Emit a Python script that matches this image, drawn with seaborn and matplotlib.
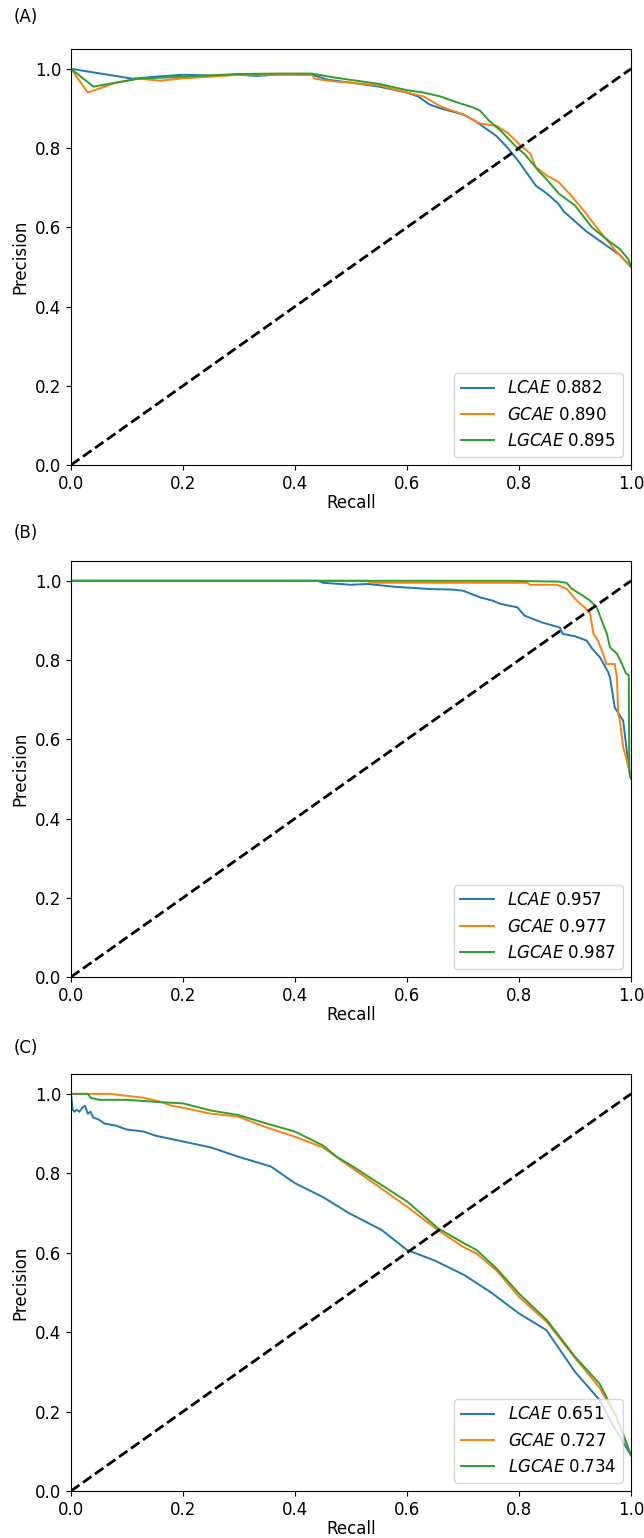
import matplotlib
matplotlib.use("Agg")
import matplotlib.pyplot as plt
import seaborn as sns
import pandas as pd

# ---------------- data ----------------
models = ["LCAE", "GCAE", "LGCAE"]
panel_tags = ["(A)", "(B)", "(C)"]
scores_A = [0.882, 0.890, 0.895]
scores_B = [0.957, 0.977, 0.987]
scores_C = [0.651, 0.727, 0.734]

# Panel A
A_LCAE_r = [0, 0.11, 0.15, 0.2, 0.25, 0.3, 0.33, 0.38, 0.43, 0.46, 0.5, 0.55, 0.6, 0.62, 0.64, 0.66,
            0.7, 0.72, 0.74, 0.76, 0.78, 0.80, 0.81, 0.82, 0.83, 0.85, 0.87, 0.88, 0.9, 0.92, 0.94,
            0.96, 0.98, 1.0]
A_LCAE_p = [1.0, 0.975, 0.98, 0.985, 0.983, 0.985, 0.982, 0.986, 0.985, 0.972, 0.965, 0.955, 0.94,
            0.93, 0.91, 0.9, 0.885, 0.87, 0.85, 0.83, 0.80, 0.765, 0.745, 0.725, 0.705, 0.685, 0.66,
            0.64, 0.615, 0.59, 0.57, 0.55, 0.53, 0.5]
A_GCAE_r = [0, 0.03, 0.08, 0.12, 0.16, 0.2, 0.25, 0.3, 0.35, 0.43, 0.435, 0.47, 0.5, 0.55, 0.6, 0.63,
            0.66, 0.7, 0.73, 0.76, 0.78, 0.80, 0.82, 0.83, 0.85, 0.87, 0.89, 0.915, 0.944, 0.973, 1.0]
A_GCAE_p = [1.0, 0.94, 0.965, 0.975, 0.97, 0.976, 0.98, 0.985, 0.985, 0.985, 0.975, 0.968, 0.965,
            0.958, 0.94, 0.93, 0.905, 0.885, 0.862, 0.856, 0.838, 0.81, 0.786, 0.752, 0.73, 0.715,
            0.685, 0.643, 0.59, 0.54, 0.5]
A_LGCAE_r = [0, 0.04, 0.08, 0.12, 0.2, 0.3, 0.37, 0.43, 0.47, 0.5, 0.55, 0.6, 0.63, 0.66, 0.69,
             0.717, 0.73, 0.746, 0.77, 0.797, 0.81, 0.834, 0.85, 0.871, 0.9, 0.93, 0.959, 0.98,
             0.995, 1.0]
A_LGCAE_p = [1.0, 0.955, 0.965, 0.975, 0.98, 0.987, 0.988, 0.988, 0.978, 0.972, 0.962, 0.946, 0.94,
             0.93, 0.915, 0.903, 0.895, 0.87, 0.84, 0.80, 0.785, 0.744, 0.72, 0.685, 0.655, 0.60,
             0.567, 0.545, 0.52, 0.5]

# Panel B
B_LCAE_r = [0, 0.44, 0.45, 0.5, 0.53, 0.577, 0.6, 0.643, 0.68, 0.70, 0.731, 0.753, 0.766, 0.797,
            0.81, 0.841, 0.873, 0.878, 0.9, 0.921, 0.93, 0.945, 0.959, 0.9625, 0.971, 0.986, 0.99,
            0.997, 1.0]
B_LCAE_p = [1.0, 1.0, 0.995, 0.99, 0.992, 0.985, 0.983, 0.979, 0.978, 0.975, 0.958, 0.95, 0.942,
            0.933, 0.912, 0.895, 0.882, 0.866, 0.86, 0.849, 0.83, 0.806, 0.77, 0.756, 0.68, 0.647,
            0.60, 0.52, 0.5]
B_GCAE_r = [0, 0.53, 0.535, 0.814, 0.82, 0.868, 0.885, 0.903, 0.918, 0.927, 0.933, 0.941, 0.95,
            0.956, 0.971, 0.975, 0.977, 0.98, 0.986, 0.992, 0.997, 1.0]
B_GCAE_p = [1.0, 1.0, 0.995, 0.995, 0.99, 0.99, 0.98, 0.95, 0.932, 0.917, 0.866, 0.849, 0.816,
            0.79, 0.79, 0.756, 0.665, 0.648, 0.58, 0.55, 0.52, 0.5]
B_LGCAE_r = [0, 0.78, 0.87, 0.885, 0.894, 0.909, 0.927, 0.939, 0.948, 0.957, 0.9625, 0.975, 0.984,
             0.991, 0.996, 0.997, 1.0]
B_LGCAE_p = [1.0, 1.0, 0.998, 0.995, 0.98, 0.967, 0.95, 0.932, 0.899, 0.866, 0.832, 0.816, 0.79,
             0.766, 0.762, 0.52, 0.5]

# Panel C
C_LCAE_r = [0, 0.003, 0.006, 0.01, 0.015, 0.02, 0.025, 0.03, 0.035, 0.04, 0.05, 0.06, 0.08, 0.1,
            0.13, 0.15, 0.2, 0.25, 0.298, 0.357, 0.4, 0.45, 0.496, 0.555, 0.6, 0.65, 0.702, 0.75,
            0.8, 0.849, 0.9, 0.944, 0.97, 1.0]
C_LCAE_p = [1.0, 0.96, 0.955, 0.96, 0.955, 0.965, 0.97, 0.95, 0.955, 0.94, 0.935, 0.925, 0.92,
            0.91, 0.905, 0.895, 0.88, 0.865, 0.842, 0.817, 0.775, 0.74, 0.70, 0.657, 0.607, 0.58,
            0.544, 0.50, 0.447, 0.405, 0.30, 0.229, 0.16, 0.09]
C_GCAE_r = [0, 0.07, 0.1, 0.13, 0.16, 0.18, 0.2, 0.25, 0.298, 0.35, 0.4, 0.45, 0.5, 0.533, 0.6,
            0.655, 0.7, 0.724, 0.76, 0.8, 0.85, 0.9, 0.944, 0.974, 1.0]
C_GCAE_p = [1.0, 1.0, 0.995, 0.99, 0.98, 0.97, 0.965, 0.95, 0.943, 0.915, 0.892, 0.865, 0.815,
            0.783, 0.716, 0.657, 0.615, 0.598, 0.555, 0.489, 0.425, 0.335, 0.26, 0.185, 0.09]
C_LGCAE_r = [0, 0.03, 0.035, 0.05, 0.1, 0.15, 0.2, 0.25, 0.298, 0.35, 0.4, 0.45, 0.474, 0.5,
             0.533, 0.6, 0.655, 0.7, 0.724, 0.76, 0.8, 0.85, 0.9, 0.944, 0.974, 1.0]
C_LGCAE_p = [1.0, 1.0, 0.99, 0.985, 0.985, 0.98, 0.976, 0.958, 0.947, 0.925, 0.905, 0.87, 0.842,
             0.82, 0.79, 0.729, 0.662, 0.625, 0.607, 0.56, 0.497, 0.43, 0.338, 0.27, 0.187, 0.09]

panels = [
    ([(A_LCAE_r, A_LCAE_p), (A_GCAE_r, A_GCAE_p), (A_LGCAE_r, A_LGCAE_p)], scores_A),
    ([(B_LCAE_r, B_LCAE_p), (B_GCAE_r, B_GCAE_p), (B_LGCAE_r, B_LGCAE_p)], scores_B),
    ([(C_LCAE_r, C_LCAE_p), (C_GCAE_r, C_GCAE_p), (C_LGCAE_r, C_LGCAE_p)], scores_C),
]

# ---------------- plotting ----------------
plt.rcParams["font.family"] = ["DejaVu Sans"]
plt.rcParams["font.size"] = 12
plt.rcParams["mathtext.fontset"] = "dejavusans"

W, H = 644, 1538
fig = plt.figure(figsize=(W / 100, H / 100), dpi=100)
colors = sns.color_palette("tab10", 3)

# axes pixel boxes: (left, top, right, bottom)
boxes = [(71, 49, 631, 465), (71, 561, 631, 977), (71, 1074, 631, 1491)]
tag_y = [17, 533, 1048]

for (series, scores), box, tag, ty in zip(panels, boxes, panel_tags, tag_y):
    l, t, r, b = box
    ax = fig.add_axes([l / W, 1 - b / H, (r - l) / W, (b - t) / H])
    for (rx, py), name, sc, col in zip(series, models, scores, colors):
        df = pd.DataFrame({"Recall": rx, "Precision": py})
        sns.lineplot(data=df, x="Recall", y="Precision", ax=ax, color=col,
                     sort=False, estimator=None, linewidth=1.4,
                     label=r"$\mathit{" + name + "}$ " + f"{sc:.3f}")
    ax.plot([0, 1], [0, 1], "k--", linewidth=2)
    ax.set_xlim(0, 1)
    ax.set_ylim(0, 1.05)
    ax.set_xticks([0, 0.2, 0.4, 0.6, 0.8, 1.0])
    ax.set_yticks([0, 0.2, 0.4, 0.6, 0.8, 1.0])
    ax.set_xlabel("Recall", labelpad=1)
    ax.set_ylabel("Precision")
    ax.legend(loc="lower right", fontsize=12)
    fig.text(14 / W, 1 - ty / H, tag, ha="left", va="center", fontsize=12)

fig.savefig("out.png", dpi=100)
